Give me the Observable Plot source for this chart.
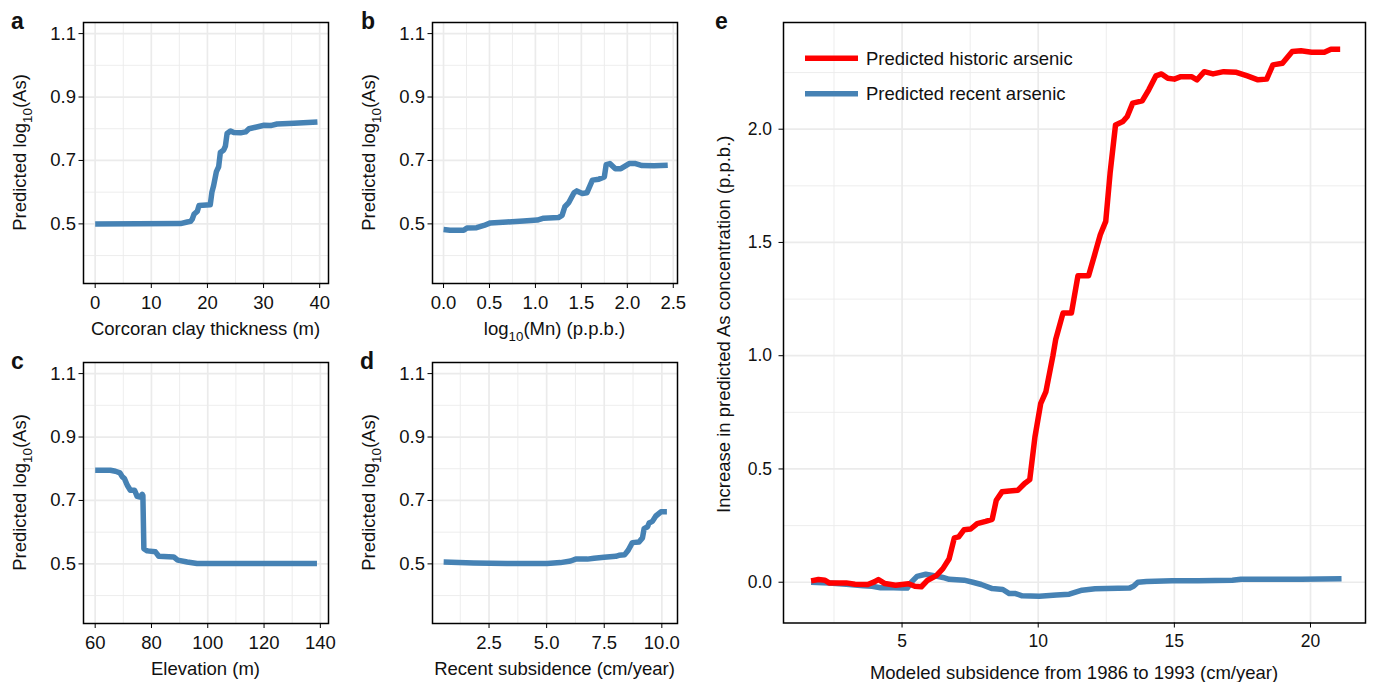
<!DOCTYPE html>
<html><head><meta charset="utf-8">
<script src="https://cdn.jsdelivr.net/npm/d3@7"></script>
<script src="https://cdn.jsdelivr.net/npm/@observablehq/plot@0.6"></script>
<style>
body{margin:0;background:#fff;}
#wrap{position:relative;width:1373px;height:682px;overflow:hidden;background:#fff;}
#wrap svg{position:absolute;}
</style></head><body><div id="wrap"></div>
<script>
const FONT = '"Liberation Sans", Arial, Helvetica, sans-serif';

// ---- Panel a: Corcoran clay thickness ----
const clayThick = [0, 15.2, 16.4, 17.0, 17.3, 17.6, 18.2, 18.5, 20.5, 20.8, 21.1, 21.6, 22.0, 22.3, 22.9, 23.2, 23.5, 24.1, 24.7, 25.9, 26.8, 27.4, 30.1, 31.25, 32.4, 35.4, 39.6];
const clayAs = [0.500, 0.501, 0.506, 0.508, 0.515, 0.53, 0.54, 0.558, 0.56, 0.60, 0.62, 0.665, 0.68, 0.725, 0.733, 0.745, 0.785, 0.793, 0.788, 0.787, 0.790, 0.80, 0.811, 0.810, 0.815, 0.817, 0.821];
const clayTicks = [0, 10, 20, 30, 40];

// ---- Panel b: log10(Mn) ----
const mnLog = [0.0, 0.07, 0.22, 0.255, 0.36, 0.44, 0.51, 0.69, 0.87, 1.02, 1.09, 1.25, 1.29, 1.32, 1.36, 1.42, 1.45, 1.51, 1.56, 1.62, 1.69, 1.75, 1.77, 1.81, 1.87, 1.93, 2.02, 2.09, 2.16, 2.29, 2.44];
const mnAs = [0.482, 0.48, 0.48, 0.487, 0.488, 0.495, 0.503, 0.506, 0.509, 0.512, 0.518, 0.52, 0.527, 0.554, 0.566, 0.598, 0.604, 0.596, 0.598, 0.638, 0.641, 0.648, 0.687, 0.69, 0.674, 0.674, 0.69, 0.69, 0.684, 0.683, 0.685];
const mnTicks = [0, 0.5, 1.0, 1.5, 2.0, 2.5];

// ---- Panel c: Elevation ----
const elev = [60, 65.4, 67.2, 68.8, 69.6, 70.4, 71.4, 72.5, 74.0, 74.9, 75.9, 76.7, 76.95, 77.3, 78.5, 81.4, 82.6, 87.9, 89.3, 92.7, 96.2, 138.8];
const elevAs = [0.795, 0.795, 0.792, 0.787, 0.775, 0.769, 0.748, 0.732, 0.732, 0.713, 0.711, 0.719, 0.715, 0.548, 0.541, 0.538, 0.524, 0.522, 0.512, 0.506, 0.501, 0.501];
const elevTicks = [60, 80, 100, 120, 140];

// ---- Panel d: Recent subsidence ----
const recentSub = [0.53, 1.83, 3.28, 5.02, 5.6, 6.04, 6.26, 6.77, 7.06, 7.49, 8.0, 8.14, 8.39, 8.54, 8.72, 9.01, 9.16, 9.23, 9.38, 9.45, 9.59, 9.74, 9.96, 10.22];
const recentSubAs = [0.506, 0.503, 0.501, 0.501, 0.504, 0.509, 0.515, 0.515, 0.518, 0.521, 0.524, 0.527, 0.529, 0.543, 0.567, 0.569, 0.582, 0.611, 0.617, 0.629, 0.634, 0.651, 0.664, 0.664];
const recentSubTicks = [2.5, 5.0, 7.5, 10.0];

const asTicks = [0.5, 0.7, 0.9, 1.1];

// ---- Panel e: modeled subsidence ----
const histX = [1.66, 1.93, 2.17, 2.32, 2.95, 3.27, 3.74, 3.98, 4.13, 4.37, 4.76, 5.24, 5.47, 5.71, 5.94, 6.26, 6.5, 6.73, 6.92, 7.08, 7.28, 7.52, 7.76, 8.07, 8.31, 8.46, 8.67, 8.94, 9.25, 9.49, 9.69, 9.88, 10.09, 10.28, 10.54, 10.64, 10.91, 11.22, 11.46, 11.85, 12.09, 12.28, 12.48, 12.64, 12.84, 13.11, 13.27, 13.47, 13.82, 14.06, 14.32, 14.53, 14.76, 15.0, 15.24, 15.63, 15.83, 16.1, 16.42, 16.81, 17.28, 17.68, 18.07, 18.39, 18.62, 18.97, 19.33, 19.65, 20.04, 20.51, 20.75, 21.09];
const histY = [0.006, 0.012, 0.009, -0.003, -0.003, -0.009, -0.01, 0.0015, 0.012, -0.006, -0.013, -0.007, -0.018, -0.02, 0.009, 0.029, 0.06, 0.104, 0.196, 0.2, 0.232, 0.235, 0.259, 0.269, 0.278, 0.362, 0.399, 0.403, 0.406, 0.435, 0.453, 0.641, 0.788, 0.84, 1.0, 1.07, 1.188, 1.188, 1.353, 1.353, 1.453, 1.534, 1.593, 1.806, 2.019, 2.034, 2.056, 2.115, 2.125, 2.174, 2.235, 2.244, 2.225, 2.221, 2.232, 2.232, 2.218, 2.254, 2.244, 2.254, 2.251, 2.235, 2.218, 2.221, 2.284, 2.291, 2.343, 2.346, 2.34, 2.34, 2.353, 2.353];
const recX = [1.66, 2.32, 2.95, 3.58, 3.9, 4.21, 4.69, 5.0, 5.19, 5.35, 5.55, 5.87, 6.18, 6.5, 6.73, 7.28, 7.6, 7.91, 8.31, 8.7, 8.94, 9.17, 9.41, 10.04, 10.67, 11.14, 11.61, 12.09, 13.35, 13.5, 13.66, 13.98, 14.92, 15.87, 17.13, 17.44, 19.65, 21.14];
const recY = [0.0, -0.003, -0.009, -0.016, -0.018, -0.024, -0.024, -0.026, -0.026, 0.0015, 0.026, 0.035, 0.029, 0.021, 0.013, 0.009, 0.0, -0.01, -0.028, -0.032, -0.05, -0.05, -0.06, -0.062, -0.056, -0.053, -0.035, -0.029, -0.026, -0.018, 0.0, 0.003, 0.006, 0.007, 0.009, 0.013, 0.013, 0.015];
const eXTicks = [5, 10, 15, 20];
const eYTicks = [0.0, 0.5, 1.0, 1.5, 2.0];
const seriesNames = ["Predicted historic arsenic", "Predicted recent arsenic"];
const seriesColors = ["#ff0000", "#4682b4"];

const wrap = document.getElementById("wrap");
const f1 = d3.format(".1f");

function minorsOf(ticks, domain) {
  const step = ticks[1] - ticks[0];
  const out = [];
  for (let v = ticks[0] - step / 2; v <= ticks[ticks.length - 1] + step; v += step) {
    if (v >= domain[0] && v <= domain[1]) out.push(+v.toFixed(6));
  }
  return out;
}

function addText(svg, x, y, parts, {size = 18, rotate = 0, anchor = "middle", weight = "normal"} = {}) {
  const t = d3.select(svg).append("text")
    .attr("transform", `translate(${x},${y}) rotate(${rotate})`)
    .attr("text-anchor", anchor)
    .attr("font-size", size)
    .attr("font-weight", weight)
    .attr("font-family", FONT)
    .attr("fill", "#111");
  let afterSub = false;
  for (const p of parts) {
    if (typeof p === "string") {
      const s = t.append("tspan").text(p);
      if (afterSub) { s.attr("dy", (-0.3 * size).toFixed(1)); afterSub = false; }
    } else {
      t.append("tspan").text(p.sub).attr("font-size", size * 0.72).attr("dy", (0.3 * size).toFixed(1));
      afterSub = true;
    }
  }
  return t;
}

function panel(o) {
  const xMinor = minorsOf(o.xTicks, o.xDomain);
  const yMinor = minorsOf(o.yTicks, o.yDomain);
  const marks = [
    Plot.gridX(xMinor, {stroke: "#ebebeb", strokeOpacity: 1, strokeWidth: 0.9}),
    Plot.gridY(yMinor, {stroke: "#ebebeb", strokeOpacity: 1, strokeWidth: 0.9}),
    Plot.gridX(o.xTicks, {stroke: "#ebebeb", strokeOpacity: 1, strokeWidth: 1.7}),
    Plot.gridY(o.yTicks, {stroke: "#ebebeb", strokeOpacity: 1, strokeWidth: 1.7}),
  ];
  for (const s of o.series) {
    const data = s.x.map((x, i) => ({x, y: s.y[i]}));
    marks.push(Plot.line(data, {x: "x", y: "y", stroke: s.color, strokeWidth: 5.5, strokeLinejoin: "round", strokeLinecap: "butt"}));
  }
  marks.push(
    Plot.frame({stroke: "#000", strokeWidth: 1.5}),
    Plot.axisX(o.xTicks, {tickSize: 5, tickPadding: 7, tickFormat: o.xFmt, label: null, fontSize: o.tickFs, stroke: "#000"}),
    Plot.axisY(o.yTicks, {tickSize: 4.5, tickPadding: o.yPad, tickFormat: o.yFmt, label: null, fontSize: o.tickFs, stroke: "#000"})
  );
  const svg = Plot.plot({
    width: o.width, height: o.height,
    marginLeft: o.ml, marginRight: o.mr, marginTop: o.mt, marginBottom: o.mb,
    style: {fontFamily: FONT, fontSize: o.tickFs + "px", color: "#111", background: "transparent", overflow: "visible"},
    x: {domain: o.xDomain},
    y: {domain: o.yDomain},
    marks
  });
  svg.style.left = o.left + "px";
  svg.style.top = o.top + "px";
  wrap.appendChild(svg);
  const fl = o.ml, fr = o.width - o.mr, ft = o.mt, fb = o.height - o.mb;
  addText(svg, (fl + fr) / 2, fb + o.xTitleOff, o.xTitle, {size: o.titleFs});
  addText(svg, fl - o.yTitleOff, (ft + fb) / 2 + (o.yTitleShift || 0), o.yTitle, {size: o.titleFs, rotate: -90});
  addText(svg, o.letterX, o.letterY, [o.letter], {size: 23, weight: "bold", anchor: "start"});
  return svg;
}

const asDomain = [0.312, 1.135];
const yTitleAs = ["Predicted log", {sub: "10"}, "(As)"];
const common = {height: 340, mt: 22, mb: 57, tickFs: 18.5, titleFs: 18.5, yPad: 3, xTitleOff: 52, yTitleOff: 57,
  yTicks: asTicks, yDomain: asDomain, yFmt: f1, yTitle: yTitleAs};

panel({...common, left: 0, top: 0, width: 340, ml: 83, mr: 12,
  series: [{x: clayThick, y: clayAs, color: seriesColors[1]}],
  xTicks: clayTicks, xDomain: [-2.08, 41.57], xFmt: d3.format("d"),
  xTitle: ["Corcoran clay thickness (m)"], letter: "a", letterX: 11, letterY: 29});

panel({...common, left: 340, top: 0, width: 345, ml: 92, mr: 8,
  series: [{x: mnLog, y: mnAs, color: seriesColors[1]}],
  xTicks: mnTicks, xDomain: [-0.12, 2.546], xFmt: f1,
  xTitle: ["log", {sub: "10"}, "(Mn) (p.p.b.)"], letter: "b", letterX: 21, letterY: 29});

panel({...common, left: 0, top: 340, width: 340, ml: 83, mr: 12,
  series: [{x: elev, y: elevAs, color: seriesColors[1]}],
  xTicks: elevTicks, xDomain: [55.85, 142.9], xFmt: d3.format("d"),
  xTitle: ["Elevation (m)"], letter: "c", letterX: 11, letterY: 29});

panel({...common, left: 340, top: 340, width: 345, ml: 92, mr: 8,
  series: [{x: recentSub, y: recentSubAs, color: seriesColors[1]}],
  xTicks: recentSubTicks, xDomain: [0.046, 10.68], xFmt: f1,
  xTitle: ["Recent subsidence (cm/year)"], letter: "d", letterX: 20, letterY: 29});

const eSvg = panel({left: 700, top: 0, width: 673, height: 682, ml: 83, mr: 8, mt: 22, mb: 59.5,
  tickFs: 17.5, titleFs: 18.5, yPad: 7, xTitleOff: 56, yTitleOff: 53.5, yTitleShift: 2,
  series: [{x: recX, y: recY, color: seriesColors[1]}, {x: histX, y: histY, color: seriesColors[0]}],
  xTicks: eXTicks, xDomain: [0.646, 22.02], xFmt: d3.format("d"),
  yTicks: eYTicks, yDomain: [-0.18, 2.471], yFmt: f1,
  xTitle: ["Modeled subsidence from 1986 to 1993 (cm/year)"],
  yTitle: ["Increase in predicted As concentration (p.p.b.)"],
  letter: "e", letterX: 15, letterY: 29});

// legend inside panel e
const lg = d3.select(eSvg).append("g");
seriesNames.forEach((name, i) => {
  const y = 58.3 + i * 35.4;
  lg.append("line").attr("x1", 105).attr("x2", 158).attr("y1", y).attr("y2", y)
    .attr("stroke", seriesColors[i]).attr("stroke-width", 5.5);
  lg.append("text").attr("x", 166).attr("y", y + 6.5).attr("font-size", 18.5)
    .attr("text-anchor", "start")
    .attr("font-family", FONT).attr("fill", "#111").text(name);
});
</script>
</body></html>
